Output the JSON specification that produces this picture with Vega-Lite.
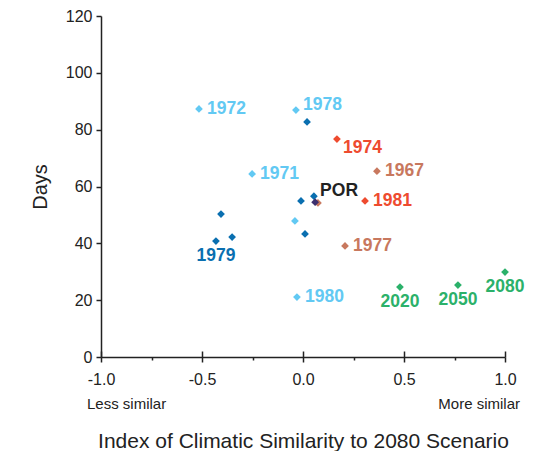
{
  "$schema": "https://vega.github.io/schema/vega-lite/v6.json",
  "width": 404,
  "height": 341,
  "autosize": "none",
  "padding": {"left": 101, "top": 16, "right": 41, "bottom": 94},
  "background": "white",
  "config": {
    "view": {"stroke": null},
    "axis": {
      "grid": false,
      "domainColor": "#222222",
      "tickColor": "#222222",
      "labelColor": "#222222",
      "titleColor": "#222222",
      "labelFont": "Liberation Sans",
      "titleFont": "Liberation Sans",
      "titleFontWeight": "normal"
    },
    "text": {"font": "Liberation Sans", "fontWeight": "bold", "fontSize": 17.5}
  },
  "data": {
    "values": [
      {"x": -0.515, "y": 87.3, "group": "light", "label": "1972"},
      {"x": -0.035, "y": 86.9, "group": "light", "label": "1978"},
      {"x": -0.252, "y": 64.4, "group": "light", "label": "1971"},
      {"x": -0.04, "y": 47.9, "group": "light", "label": ""},
      {"x": -0.03, "y": 21.1, "group": "light", "label": "1980"},
      {"x": 0.02, "y": 82.7, "group": "dark", "label": ""},
      {"x": -0.406, "y": 50.3, "group": "dark", "label": ""},
      {"x": -0.431, "y": 40.8, "group": "dark", "label": "1979"},
      {"x": -0.351, "y": 42.2, "group": "dark", "label": ""},
      {"x": -0.01, "y": 54.9, "group": "dark", "label": ""},
      {"x": 0.054, "y": 56.6, "group": "dark", "label": ""},
      {"x": 0.01, "y": 43.3, "group": "dark", "label": ""},
      {"x": 0.074, "y": 54.2, "group": "brown", "label": ""},
      {"x": 0.06, "y": 54.5, "group": "por", "label": "POR"},
      {"x": 0.366, "y": 65.4, "group": "brown", "label": "1967"},
      {"x": 0.208, "y": 39.1, "group": "brown", "label": "1977"},
      {"x": 0.168, "y": 76.7, "group": "red", "label": "1974"},
      {"x": 0.307, "y": 54.9, "group": "red", "label": "1981"},
      {"x": 0.48, "y": 24.6, "group": "green", "label": "2020"},
      {"x": 0.767, "y": 25.3, "group": "green", "label": "2050"},
      {"x": 1.0, "y": 29.9, "group": "green", "label": "2080"}
    ]
  },
  "layer": [
    {
      "mark": {"type": "point", "shape": "diamond", "filled": true, "opacity": 1, "size": 60},
      "encoding": {
        "x": {"field": "x", "type": "quantitative", "scale": {"domain": [-1, 1], "nice": false},
          "axis": {"orient": "bottom", "values": [-1, -0.5, 0, 0.5, 1], "labelExpr": "replace(format(datum.value, '.1f'), '\u2212', '-')",
            "labelFlush": false, "tickSize": 5, "tickWidth": 1.5, "domainWidth": 1.5, "labelPadding": 9, "labelFontSize": 16,
            "title": "Index of Climatic Similarity to 2080 Scenario", "titleFontSize": 21, "titlePadding": 43}},
        "y": {"field": "y", "type": "quantitative", "scale": {"domain": [0, 120], "nice": false},
          "axis": {"orient": "left", "values": [0, 20, 40, 60, 80, 100, 120], "tickSize": 5, "tickWidth": 1.5, "domainWidth": 1.5, "labelPadding": 4, "labelFontSize": 16,
            "title": "Days", "titleFontSize": 20, "titlePadding": 15}},
        "color": {"field": "group", "type": "nominal", "legend": null,
          "scale": {"domain": ["light", "dark", "por", "brown", "red", "green"],
            "range": ["#62c9f3", "#0a6fb0", "#3c2f6e", "#c8785e", "#ee4b2f", "#2bb16a"]}}
      }
    },
    {
      "transform": [{"filter": {"field": "label", "oneOf": ["1972", "1971", "1981", "1967", "1977", "1980"]}}],
      "mark": {"type": "text", "align": "left", "baseline": "middle", "dx": 8},
      "encoding": {
        "x": {"field": "x", "type": "quantitative",
          "axis": {"orient": "bottom", "values": [-0.75, -0.25, 0.25, 0.75], "labels": false, "domain": false, "tickSize": 3, "tickWidth": 1.5, "title": null}},
        "y": {"field": "y", "type": "quantitative", "axis": null},
        "text": {"field": "label"},
        "color": {"field": "group", "type": "nominal", "legend": null}
      }
    },
    {
      "transform": [{"filter": {"field": "label", "equal": "1978"}}],
      "mark": {"type": "text", "align": "left", "baseline": "middle", "dx": 7, "dy": -5},
      "encoding": {
        "x": {"field": "x", "type": "quantitative",
          "axis": {"orient": "bottom", "values": [-1, 1], "labelExpr": "datum.value < 0 ? 'Less similar' : 'More similar'", "labelFlush": true, "labelFlushOffset": 14.5,
            "ticks": false, "tickSize": 0, "domain": false, "labelPadding": 39, "labelFontSize": 15, "title": null}},
        "y": {"field": "y", "type": "quantitative", "axis": null},
        "text": {"field": "label"},
        "color": {"field": "group", "type": "nominal", "legend": null}
      }
    },
    {
      "transform": [{"filter": {"field": "label", "equal": "1974"}}],
      "mark": {"type": "text", "align": "left", "baseline": "middle", "dx": 6, "dy": 9},
      "encoding": {
        "x": {"field": "x", "type": "quantitative", "axis": null},
        "y": {"field": "y", "type": "quantitative", "axis": null},
        "text": {"field": "label"},
        "color": {"field": "group", "type": "nominal", "legend": null}
      }
    },
    {
      "transform": [{"filter": {"field": "label", "equal": "POR"}}],
      "mark": {"type": "text", "align": "left", "baseline": "middle", "dx": 5, "dy": -11, "color": "#222222"},
      "encoding": {
        "x": {"field": "x", "type": "quantitative", "axis": null},
        "y": {"field": "y", "type": "quantitative", "axis": null},
        "text": {"field": "label"}
      }
    },
    {
      "transform": [{"filter": {"field": "label", "oneOf": ["1979", "2020", "2050", "2080"]}}],
      "mark": {"type": "text", "align": "center", "baseline": "middle", "dy": 15},
      "encoding": {
        "x": {"field": "x", "type": "quantitative",
          "axis": {"orient": "bottom", "values": [-1, -0.5, 0, 0.5, 1], "labels": false, "domain": false, "tickSize": -6, "tickWidth": 1.5, "title": null}},
        "y": {"field": "y", "type": "quantitative", "axis": null},
        "text": {"field": "label"},
        "color": {"field": "group", "type": "nominal", "legend": null}
      }
    }
  ],
  "resolve": {"axis": {"x": "independent", "y": "independent"}}
}
